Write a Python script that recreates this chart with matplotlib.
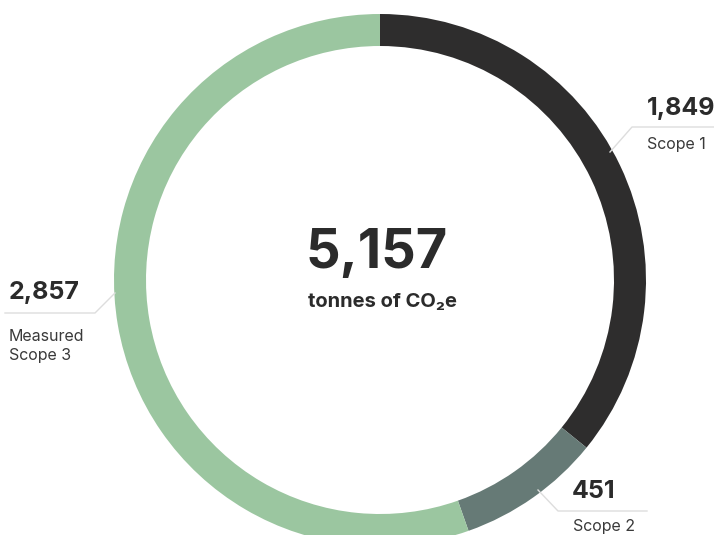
import matplotlib
matplotlib.use('Agg')
import matplotlib.pyplot as plt

plt.rcParams['font.family'] = ['Inter', 'DejaVu Sans']

# data
labels = ['Scope 1', 'Scope 2', 'Measured\nScope 3']
values = [1849, 451, 2857]
colors = ['#2e2d2d', '#667a76', '#9bc6a0']
total = sum(values)

W, H = 714, 535
fig = plt.figure(figsize=(W / 100, H / 100), dpi=100)
ax = fig.add_axes([0, 0, 1, 1])

cx, cy = 380, H - 280
R = 266
ax.pie(values, colors=colors, startangle=90, counterclock=False,
       radius=R, center=(cx, cy),
       wedgeprops=dict(width=32, linewidth=0))

ax.set_xlim(0, W)
ax.set_ylim(0, H)
ax.set_aspect('auto')
ax.axis('off')

# centre text
ax.text(cx - 3, H - 253, f'{total:,}', ha='center', va='center',
        fontsize=39, fontweight='bold', color='#2b2b2b')
ax.text(cx + 2, H - 302, 'tonnes of CO₂e', ha='center', va='center',
        fontsize=14.5, fontweight='bold', color='#2b2b2b')

line_kw = dict(color='#dddddd', lw=1)

# Scope 1
ax.plot([610, 632, 714], [H - 152, H - 127, H - 127], **line_kw)
ax.text(647, H - 109, f'{values[0]:,}', ha='left', va='center',
        fontsize=18, fontweight='bold', color='#2b2b2b')
ax.text(647, H - 145, labels[0], ha='left', va='center',
        fontsize=11.5, color='#3a3a3a')

# Scope 2
ax.plot([538, 558, 647], [H - 490, H - 511, H - 511], **line_kw)
ax.text(572, H - 492, f'{values[1]:,}', ha='left', va='center',
        fontsize=18, fontweight='bold', color='#2b2b2b')
ax.text(573, H - 527, labels[1], ha='left', va='center',
        fontsize=11.5, color='#3a3a3a')

# Scope 3
ax.plot([115, 95, 5], [H - 293, H - 313, H - 313], **line_kw)
ax.text(9, H - 293, f'{values[2]:,}', ha='left', va='center',
        fontsize=18, fontweight='bold', color='#2b2b2b')
ax.text(9, H - 346, labels[2], ha='left', va='center',
        fontsize=11.5, color='#3a3a3a', linespacing=1.3)

fig.savefig('out.png', dpi=100, facecolor='white')
